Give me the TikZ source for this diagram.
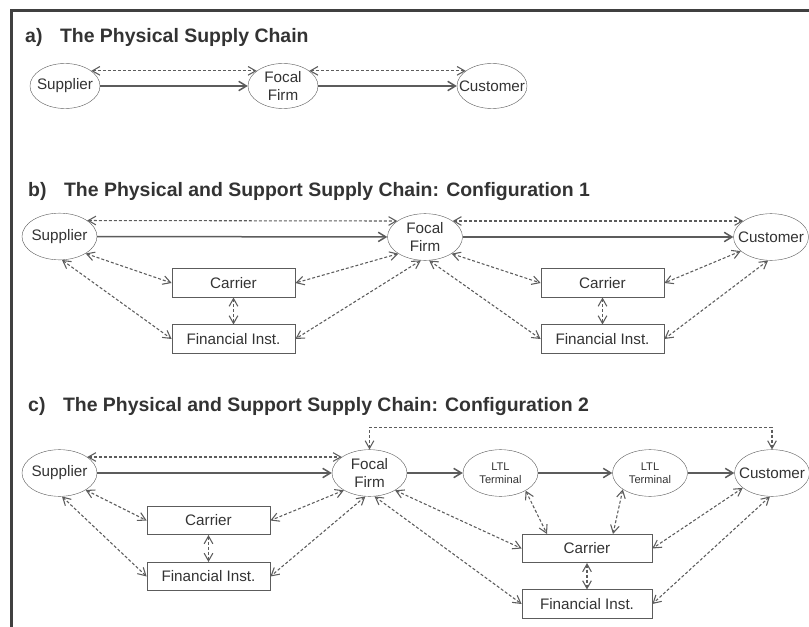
\documentclass[tikz,border=0pt]{standalone}
\usepackage{fontspec}
\setmainfont{Liberation Sans}
\usetikzlibrary{shapes.geometric}
\usetikzlibrary{arrows.meta}
\definecolor{ink}{gray}{0.36}
\definecolor{txt}{gray}{0.2}

\begin{document}
\begin{tikzpicture}[x=0.3mm,y=-0.3mm,
    firm/.style={ellipse,draw=ink,line width=0.35pt,inner xsep=-6mm,inner ysep=-2mm,
        minimum width=22.5mm,minimum height=14mm,align=center,text=txt,
        font=\fontsize{13}{15}\selectfont},
    ltl/.style={firm,font=\fontsize{9.5}{11}\selectfont},
    box/.style={rectangle,draw=ink,line width=0.6pt,inner sep=0pt,
        minimum width=36.9mm,minimum height=8.5mm,text=txt,
        font=\fontsize{13}{15}\selectfont},
    title/.style={anchor=west,inner sep=0pt,text=txt,font=\fontsize{16.6}{18}\selectfont\bfseries},
    flow/.style={draw=ink,line width=0.45mm,-{Straight Barb[length=2.3mm,width=2.8mm]}},
    link/.style={draw=ink,line width=0.32mm,dash pattern=on 0.9mm off 0.6mm,
        {Straight Barb[length=2.3mm,width=2.6mm]}-{Straight Barb[length=2.3mm,width=2.6mm]}}]
    \useasboundingbox (0,0) rectangle (809,627);

    % The frame
    \draw[ink!70!black,line width=0.9mm] (11,627) -- (11,11) -- (809,11);

    % a) physical chain
    \node[title] (ta) at (25,37) {a)\hspace{0.9em}The Physical Supply Chain};
    \node[firm,minimum width=21mm,minimum height=13.5mm] (s1) at (65,86) {Supplier};
    \node[firm,minimum width=21mm,minimum height=13.5mm] (f1) at (283,86) {Focal\\Firm};
    \node[firm,minimum width=21mm,minimum height=13.5mm] (c1) at (492,86) {Customer};

    \draw[flow] (s1) -- (f1);
    \draw[flow] (f1) -- (c1);
    \draw[link] (s1.30) -- (f1.150);
    \draw[link] (f1.30) -- (c1.150);

    % b) configuration 1
    \node[title] (tb) at (28,192) {b)\hspace{0.9em}The Physical and Support Supply Chain: Configuration 1};
    \node[firm] (s2) at (59.5,236.5) {Supplier};
    \node[firm] (f2) at (425,237) {Focal\\Firm};
    \node[firm] (c2) at (771,237) {Customer};
    \node[box] (r2a) at (233.5,283) {Carrier};
    \node[box] (i2a) at (233.5,339) {Financial Inst.};
    \node[box] (r2b) at (602.5,283) {Carrier};
    \node[box] (i2b) at (602.5,339) {Financial Inst.};

    \draw[flow] (s2) -- (f2);
    \draw[flow] (f2) -- (c2);
    \draw[link] (s2.30) -- (f2.150);
    \draw[link] (f2.30) -- (c2.150);
    \draw[link] (s2.-33) -- (r2a.west);
    \draw[link] (s2.-84) -- (i2a.west);
    \draw[link] (f2.-148) -- (r2a.east);
    \draw[link] (f2.-100) -- (i2a.east);
    \draw[link] (f2.-80) -- (i2b.west);
    \draw[link] (f2.-32) -- (r2b.west);
    \draw[link] (c2.-155) -- (r2b.east);
    \draw[link] (c2.-97) -- (i2b.east);
    \draw[link] (r2a) -- (i2a);
    \draw[link] (r2b) -- (i2b);

    % c) configuration 2
    \node[title] (tc) at (28,407) {c)\hspace{0.9em}The Physical and Support Supply Chain: Configuration 2};
    \node[firm] (s3) at (59.5,473) {Supplier};
    \node[firm] (f3) at (369.5,473) {Focal\\Firm};
    \node[ltl] (t3a) at (500.5,473) {LTL\\Terminal};
    \node[ltl] (t3b) at (650,473) {LTL\\Terminal};
    \node[firm] (c3) at (772,473) {Customer};
    \node[box] (r3a) at (208.5,520.5) {Carrier};
    \node[box] (i3a) at (208.5,576.5) {Financial Inst.};
    \node[box,minimum width=39mm] (r3b) at (587,548.5) {Carrier};
    \node[box,minimum width=39mm] (i3b) at (587,604) {Financial Inst.};

    \draw[flow] (s3) -- (f3);
    \draw[flow] (f3) -- (t3a);
    \draw[flow] (t3a) -- (t3b);
    \draw[flow] (t3b) -- (c3);
    \draw[link] (s3.30) -- (f3.150);
    \draw[link] (f3.north) -- ++(0,-22) -| (c3.north);
    \draw[link] (s3.-33) -- (r3a.west);
    \draw[link] (s3.-84) -- (i3a.west);
    \draw[link] (f3.-146) -- (r3a.east);
    \draw[link] (f3.-100) -- (i3a.east);
    \draw[link] (f3.-78) -- (i3b.west);
    \draw[link] (f3.-34) -- (r3b.west);
    \draw[link] (t3a.-35) -- ([xshift=-12mm]r3b.north);
    \draw[link] (t3b.-149) -- ([xshift=7.8mm]r3b.north);
    \draw[link] (c3.-153) -- (r3b.east);
    \draw[link] (c3.-95) -- (i3b.east);
    \draw[link] (r3a) -- (i3a);
    \draw[link] (r3b) -- (i3b);
\end{tikzpicture}
\end{document}
